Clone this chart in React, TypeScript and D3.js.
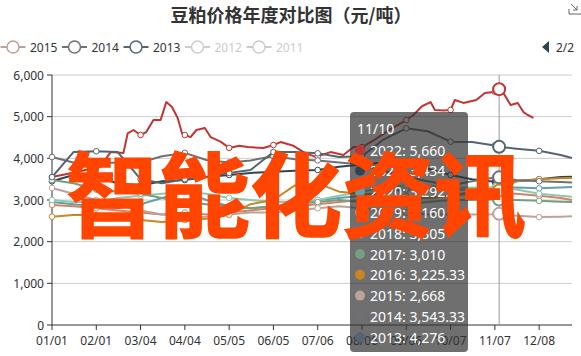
import React from "react";
import * as d3 from "d3";

// Chart texts
const title = "豆粕价格年度对比图（元/吨）";
const overlayText = "智能化资讯";
const pageLabel = "2/2";
const yTicks = [0, 1000, 2000, 3000, 4000, 5000, 6000];

// Legend page currently shown (2011/2012 toggled off)
const legendPage = ["2015", "2014", "2013", "2012", "2011"];
const legendOff = ["2012", "2011"];

// Series names, in drawing / tooltip order
const seriesNames = ["2022", "2021", "2020", "2019", "2018", "2017", "2016", "2015", "2014", "2013"];

// Day-of-year sample positions shared by 2013–2021
const sampleDays = [0, 15, 31, 46, 62, 77, 93, 108, 124, 139, 155, 170, 186, 201, 217, 232, 248, 263, 279, 294, 310, 313, 325, 341, 356, 364];

const s2021 = [3450, 3600, 3550, 3400, 3350, 3450, 3480, 3550, 3600, 3650, 3680, 3700, 3720, 3800, 3850, 3900, 3850, 3750, 3600, 3500, 3440, 3434, 3450, 3500, 3550, 3560];
const s2020 = [2950, 2900, 2850, 2800, 2900, 3050, 3200, 3000, 2850, 2800, 2850, 2900, 3000, 3050, 3100, 3200, 3250, 3300, 3250, 3250, 3290, 3292.5, 3300, 3280, 3300, 3310];
const s2019 = [2880, 2850, 2800, 2750, 2700, 2650, 2700, 2650, 2700, 2750, 2800, 2850, 2900, 2950, 3000, 3050, 3100, 3050, 3100, 3150, 3160, 3160, 3150, 3100, 3050, 3000];
const s2018 = [3000, 2950, 2950, 3050, 3100, 3150, 3200, 3150, 3050, 3000, 2950, 2950, 3000, 3100, 3200, 3300, 3350, 3350, 3300, 3300, 3305, 3305, 3250, 3150, 3100, 3080];
const s2017 = [3480, 3400, 3250, 3200, 3150, 3050, 2950, 2900, 2850, 2800, 2850, 2900, 2950, 3000, 2950, 2900, 2900, 2950, 3000, 3000, 3010, 3010, 3000, 2980, 2960, 2950];
const s2016 = [2600, 2640, 2640, 2640, 2520, 2470, 2520, 2550, 2640, 2900, 3000, 3350, 3400, 3200, 3150, 3100, 3050, 3050, 3100, 3200, 3220, 3225.33, 3450, 3500, 3520, 3530];
const s2015 = [3290, 3150, 3000, 2900, 2750, 2650, 2580, 2600, 2650, 2700, 2700, 2750, 2800, 2850, 2800, 2750, 2700, 2650, 2650, 2650, 2660, 2668, 2620, 2590, 2600, 2610];
const s2014 = [4030, 3900, 3880, 3900, 3900, 4050, 4130, 3960, 3900, 3950, 4050, 3980, 3950, 3900, 3850, 3700, 3550, 3450, 3350, 3450, 3540, 3543.33, 3480, 3450, 3430, 3420];
const s2013 = [3550, 4150, 4170, 4150, 3500, 3400, 3500, 3550, 3650, 3720, 4150, 4150, 4120, 4030, 4050, 4450, 4720, 4650, 4400, 4390, 4310, 4276, 4230, 4180, 4080, 4010];

// 2022 is read at its own day positions (runs to early December)
const days2022 = [0, 14, 31, 34, 41, 50, 53, 57, 62, 66, 71, 76, 80, 84, 88, 91, 93, 97, 101, 107, 111, 118, 124, 131, 137, 148, 155, 160, 169, 177, 185, 186, 195, 204, 211, 217, 226, 237, 247, 248, 253, 259, 265, 268, 274, 279, 282, 288, 297, 303, 309, 310, 313, 316, 321, 326, 330, 333, 337];
const s2022 = [3550, 3650, 3780, 3800, 4150, 4130, 4600, 4680, 4560, 4630, 4920, 4920, 5350, 5230, 4970, 4600, 4560, 4510, 4680, 4730, 4510, 4400, 4250, 4300, 4270, 4250, 4320, 4390, 4300, 4130, 4030, 4050, 4150, 4080, 4270, 4270, 4450, 4700, 4900, 4920, 5040, 5250, 5350, 5160, 5150, 5160, 5400, 5330, 5400, 5570, 5590, 5600, 5660, 5570, 5280, 5330, 5110, 5040, 4970];

const seriesDays = [days2022, sampleDays, sampleDays, sampleDays, sampleDays, sampleDays, sampleDays, sampleDays, sampleDays, sampleDays];
const seriesValues = [s2022, s2021, s2020, s2019, s2018, s2017, s2016, s2015, s2014, s2013];

// Hovered category
const hoverDay = 313;

const palette = ["#c23531", "#2f4554", "#61a0a8", "#d48265", "#91c7ae", "#749f83", "#ca8622", "#bda29a", "#6e7074", "#546570", "#c4ccd3", "#c23531"];
const allNames = ["2022", "2021", "2020", "2019", "2018", "2017", "2016", "2015", "2014", "2013", "2012", "2011"];

const W = 581;
const H = 356;
const left = 52;
const right = 572;
const top = 75;
const bottom = 325;
const font = "'Noto Sans', 'Noto Sans CJK SC', sans-serif";

// Daily MM/DD categories over a non-leap year
const categories = d3.timeDay
  .range(new Date(2021, 0, 1), new Date(2022, 0, 1))
  .map(d3.timeFormat("%m/%d"));
const tickIdx = categories.map((_, i) => i).filter((i) => i % 31 === 0);

export default function App() {
  const x = d3.scalePoint<string>().domain(categories).range([left, right]).padding(0);
  const y = d3.scaleLinear().domain([0, 6000]).range([bottom, top]);
  const fmt = d3.format(",");

  const series = seriesNames.map((name, k) => {
    const pts = seriesDays[k].map((d, i) => ({ day: d, v: seriesValues[k][i] }));
    return { name, color: palette[allNames.indexOf(name)], pts };
  });

  const line = d3
    .line<{ day: number; v: number }>()
    .x((d) => x(categories[d.day]) as number)
    .y((d) => y(d.v))
    .curve(d3.curveLinear);

  const hx = x(categories[hoverDay]) as number;

  const tipX = 350;
  const tipY = 112;
  const rowH = 20.8;

  return (
    <svg
      width={W}
      height={H}
      style={{ position: "absolute", left: 0, top: 0, display: "block", background: "#fff" }}
      fontFamily={font}
    >
      {/* title */}
      <text x={291} y={14} textAnchor="middle" dominantBaseline="central" fontSize={18} fontWeight={700} fill="#333" fontFamily="'Noto Sans CJK SC', sans-serif">
        {title}
      </text>
      {/* save icon */}
      <g stroke="#666" strokeWidth={1} fill="none">
        <path d="M571 4 L577 10 M577 6 L577 10 L573 10" />
        <path d="M569 9 L569 14 L581 14" />
      </g>

      {/* legend */}
      {legendPage.map((name, i) => {
        const cx = 13 + 61.5 * i;
        const off = legendOff.includes(name);
        const c = off ? "#ccc" : palette[allNames.indexOf(name)];
        return (
          <g key={name}>
            <line x1={cx - 12.5} x2={cx + 12.5} y1={47} y2={47} stroke={c} strokeWidth={2} />
            <circle cx={cx} cy={47} r={6} fill="#fff" stroke={c} strokeWidth={1.5} />
            <text x={cx + 17} y={47} dominantBaseline="central" fontSize={12} fill={off ? "#ccc" : "#333"}>
              {name}
            </text>
          </g>
        );
      })}
      <path d="M542 47 L549 41 L549 53 Z" fill="#2f4554" />
      <text x={556} y={47} dominantBaseline="central" fontSize={12} fill="#333">
        {pageLabel}
      </text>

      {/* grid + y axis */}
      {yTicks.map((t) => (
        <g key={t}>
          {t > 0 && <line x1={left} x2={right} y1={y(t)} y2={y(t)} stroke="#ccc" strokeWidth={1} />}
          <line x1={left - 5} x2={left} y1={y(t)} y2={y(t)} stroke="#333" />
          <text x={left - 8} y={y(t)} textAnchor="end" dominantBaseline="central" fontSize={12} fill="#333">
            {fmt(t)}
          </text>
        </g>
      ))}
      <line x1={left} x2={left} y1={top} y2={bottom} stroke="#333" />

      {/* x axis */}
      <line x1={left} x2={right} y1={bottom} y2={bottom} stroke="#333" />
      {tickIdx.map((i) => {
        const tx = x(categories[i]) as number;
        return (
          <g key={i}>
            <line x1={tx} x2={tx} y1={bottom} y2={bottom + 5} stroke="#333" />
            <text x={tx} y={340} textAnchor="middle" dominantBaseline="central" fontSize={12} fill="#333">
              {categories[i]}
            </text>
          </g>
        );
      })}

      {/* hover pointer */}
      <line x1={hx} x2={hx} y1={top} y2={bottom} stroke="#999" strokeWidth={1} />

      {/* series */}
      {series.map((s) => (
        <g key={s.name}>
          <path d={line(s.pts) || ""} fill="none" stroke={s.color} strokeWidth={2} strokeLinejoin="round" />
          {s.pts
            .filter((p) => tickIdx.includes(p.day))
            .map((p) => (
              <circle key={p.day} cx={x(categories[p.day])} cy={y(p.v)} r={2.8} fill="#fff" stroke={s.color} strokeWidth={1} />
            ))}
        </g>
      ))}
      {series.map((s) => {
        const p = s.pts.find((q) => q.day === hoverDay);
        if (!p) return null;
        return <circle key={s.name} cx={hx} cy={y(p.v)} r={6} fill="#fff" stroke={s.color} strokeWidth={2} />;
      })}

      {/* tooltip */}
      <g>
        <rect x={tipX} y={tipY} width={118} height={240} rx={4} fill="rgba(50,50,50,0.7)" />
        <text x={tipX + 7} y={tipY + 16} dominantBaseline="central" fontSize={14} fill="#fff">
          {categories[hoverDay]}
        </text>
        {series.map((s, i) => {
          const p = s.pts.find((q) => q.day === hoverDay);
          const cy = tipY + 38 + rowH * i;
          return (
            <g key={s.name}>
              <circle cx={tipX + 10} cy={cy} r={5} fill={s.color} />
              <text x={tipX + 20} y={cy} dominantBaseline="central" fontSize={14} fill="#fff">
                {`${s.name}: ${p ? fmt(p.v) : "-"}`}
              </text>
            </g>
          );
        })}
      </g>

      {/* overlay caption */}
      <text
        x={296}
        y={189}
        textAnchor="middle"
        dominantBaseline="central"
        fontSize={92}
        fontWeight={700}
        fill="#ff4500"
        stroke="#ff4500"
        strokeWidth={1.5}
        fontFamily="'Noto Sans CJK SC', sans-serif"
      >
        {overlayText}
      </text>
    </svg>
  );
}
